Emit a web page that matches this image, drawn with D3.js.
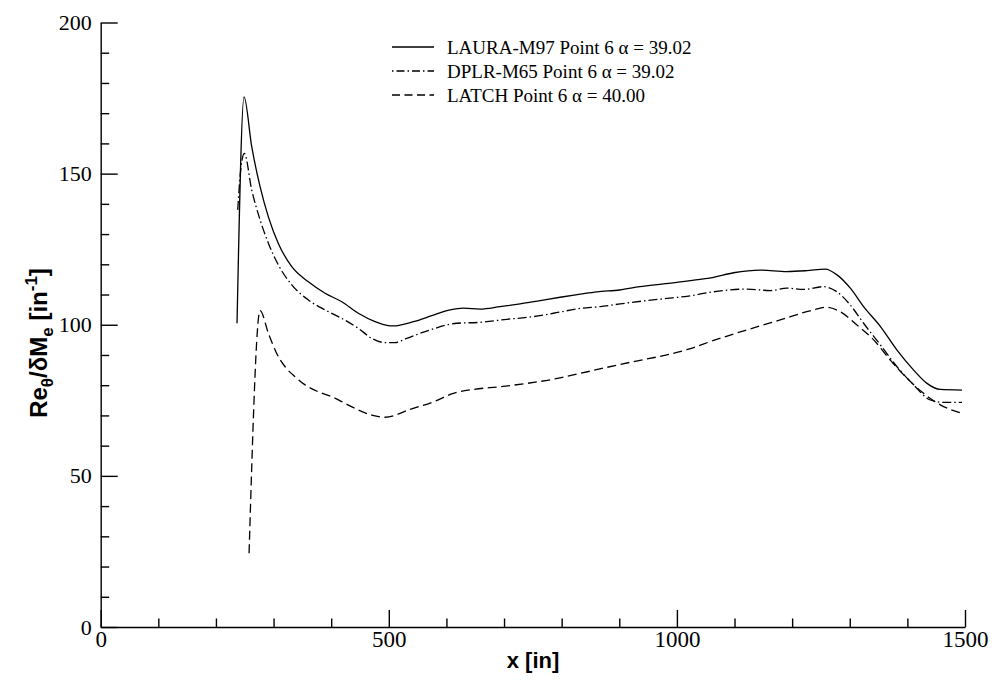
<!DOCTYPE html>
<html>
<head>
<meta charset="utf-8">
<script src="https://cdn.jsdelivr.net/npm/d3@7"></script>
<style>
  html, body { margin: 0; padding: 0; background: #fff; }
  svg { display: block; }
</style>
</head>
<body>
<svg id="chart" width="995" height="690"></svg>
<script>
// ---- data ----
const lauraX = [236.6, 248.8, 262.1, 276.6, 291, 308.3, 331.6, 360.4, 389.4, 418.4, 447.2, 476.2, 499.3, 508, 542.7, 577.4, 606.4, 629.5, 658.5, 693.2, 727.9, 762.7, 797.4, 832.1, 861, 901, 935.7, 976.7, 1020, 1063.5, 1098.3, 1144.6, 1190.9, 1225.7, 1257.5, 1277.8, 1301, 1324, 1353.3, 1382, 1410.9, 1434, 1457.1, 1494.8];
const lauraY = [100.5, 175.4, 158.9, 145.7, 135.7, 126.9, 119.2, 114.2, 110.4, 107.6, 103.8, 101, 99.7, 99.6, 101, 103.2, 104.9, 105.5, 105.2, 106, 106.9, 108, 109.1, 110.1, 110.9, 111.5, 112.6, 113.5, 114.5, 115.7, 117.2, 118.1, 117.6, 117.9, 118.4, 116.5, 112.1, 106, 99.4, 91.6, 85, 80.6, 78.6, 78.4];

const dplrX = [237.8, 243.6, 249.3, 262.1, 276.6, 291, 308.3, 331.6, 360.4, 389.4, 418.4, 447.2, 470.5, 493.6, 511, 531.2, 571.7, 618, 658.5, 704.9, 751.1, 785.9, 832.1, 866.8, 901.6, 947.9, 982.6, 1020, 1063.5, 1121.5, 1161.9, 1190.9, 1219.8, 1254.5, 1277.8, 1301, 1324, 1353.3, 1382, 1410.9, 1439.8, 1462.9, 1494.8];
const dplrY = [138, 152.3, 156.7, 144.6, 134.7, 127, 119.8, 113.2, 108.2, 104.9, 102.1, 98.8, 95.5, 94.1, 94.1, 95.5, 98.3, 100.5, 100.8, 101.8, 102.7, 103.8, 105.4, 106, 106.9, 108, 108.7, 109.5, 110.9, 111.8, 111.3, 112.1, 111.7, 112.6, 110.9, 106.5, 100.5, 93.3, 86.1, 80.1, 75.1, 74.3, 74.3];

const latchX = [257.5, 276.6, 291, 305.5, 320, 337.3, 354.7, 377.8, 401, 424.1, 447.2, 470.5, 493.6, 537, 577.4, 612.2, 646.9, 693.2, 739.6, 785.9, 832.1, 878.4, 924.7, 976.7, 1020, 1063.5, 1121.5, 1179.3, 1237.2, 1260.4, 1283.5, 1312.5, 1341.5, 1370.4, 1399.3, 1428.2, 1457.1, 1494.8];
const latchY = [24.4, 104.7, 97.2, 90.5, 86.1, 82.8, 80.1, 77.8, 76.2, 74, 71.8, 70.1, 69.4, 72, 74.5, 77.3, 78.6, 79.5, 80.6, 82, 83.9, 85.9, 87.8, 89.8, 91.9, 94.8, 98.3, 101.6, 104.9, 105.8, 104.3, 99.9, 95, 88.3, 82.3, 77.3, 73.5, 70.7];

const seriesNames = ["LAURA-M97 Point 6 \u03b1 = 39.02", "DPLR-M65 Point 6 \u03b1 = 39.02", "LATCH Point 6 \u03b1 = 40.00"];
const xMajorTicks = [0, 500, 1000, 1500];
const yMajorTicks = [0, 50, 100, 150, 200];

// ---- layout ----
const svg = d3.select("#chart");
const x = d3.scaleLinear().domain([0, 1500]).range([100.7, 965]);
const y = d3.scaleLinear().domain([0, 200]).range([627, 22.5]);

const serif = "'Liberation Serif','Times New Roman',Times,serif";
const sans = "'Liberation Sans',Arial,Helvetica,sans-serif";

// minor ticks
const xMinor = d3.range(0, 1501, 100).filter(v => v % 500 !== 0);
const yMinor = d3.range(0, 201, 10).filter(v => v % 50 !== 0);

const gx = svg.append("g").attr("transform", `translate(0,${y(0)})`);
gx.call(d3.axisBottom(x).tickValues(xMajorTicks).tickSizeInner(-17).tickSizeOuter(0).tickPadding(4).tickFormat(d3.format("d")));
gx.append("g").call(d3.axisBottom(x).tickValues(xMinor).tickSizeInner(-8.5).tickSizeOuter(0).tickFormat(""))
  .select(".domain").remove();

const gy = svg.append("g").attr("transform", `translate(${x(0)},0)`);
gy.call(d3.axisLeft(y).tickValues(yMajorTicks).tickSizeInner(-17).tickSizeOuter(0).tickPadding(9).tickFormat(d3.format("d")));
gy.append("g").call(d3.axisLeft(y).tickValues(yMinor).tickSizeInner(-8.5).tickSizeOuter(0).tickFormat(""))
  .select(".domain").remove();

svg.selectAll(".domain, .tick line").attr("stroke", "#000").attr("stroke-width", 1.4);
gx.selectAll(".tick text").style("font-family", serif).style("font-size", "23px").attr("fill", "#000");
gy.selectAll(".tick text").style("font-family", serif).style("font-size", "22px").attr("fill", "#000");

// axis titles
svg.append("text")
  .attr("x", 533).attr("y", 668)
  .attr("text-anchor", "middle")
  .style("font-family", sans).style("font-weight", "bold").style("font-size", "22px")
  .text("x [in]");

const yt = svg.append("text")
  .attr("transform", "translate(47,343) rotate(-90)")
  .attr("text-anchor", "middle")
  .style("font-family", sans).style("font-weight", "bold").style("font-size", "24px");
yt.append("tspan").text("Re");
yt.append("tspan").style("font-size", "17px").attr("dy", 6).text("\u03b8");
yt.append("tspan").attr("dy", -6).text("/\u03b4M");
yt.append("tspan").style("font-size", "17px").attr("dy", 6).text("e");
yt.append("tspan").attr("dy", -6).text(" [in");
yt.append("tspan").style("font-size", "17px").attr("dy", -10).text("-1");
yt.append("tspan").attr("dy", 10).text("]");

// curves
const series = [
  { xs: lauraX, ys: lauraY, dash: null },
  { xs: dplrX, ys: dplrY, dash: "9,3,1.5,3" },
  { xs: latchX, ys: latchY, dash: "9,4.5" }
];
const line = d3.line().x(d => x(d[0])).y(d => y(d[1])).curve(d3.curveMonotoneX);
series.forEach(s => {
  const pts = s.xs.map((v, i) => [v, s.ys[i]]);
  const p = svg.append("path").datum(pts)
    .attr("d", line).attr("fill", "none").attr("stroke", "#000").attr("stroke-width", 1.3);
  if (s.dash) p.attr("stroke-dasharray", s.dash);
});

// legend
const legY = [47, 71, 95];
series.forEach((s, i) => {
  const l = svg.append("line").attr("x1", 392).attr("x2", 434).attr("y1", legY[i]).attr("y2", legY[i])
    .attr("stroke", "#000").attr("stroke-width", 1.3);
  if (s.dash) l.attr("stroke-dasharray", i === 1 ? "1.5,3,8,3" : "8,4.5");
  svg.append("text").attr("x", 447).attr("y", legY[i]).attr("dy", "0.35em")
    .style("font-family", serif).style("font-size", "19px").attr("fill", "#000")
    .text(seriesNames[i]);
});
</script>
</body>
</html>
